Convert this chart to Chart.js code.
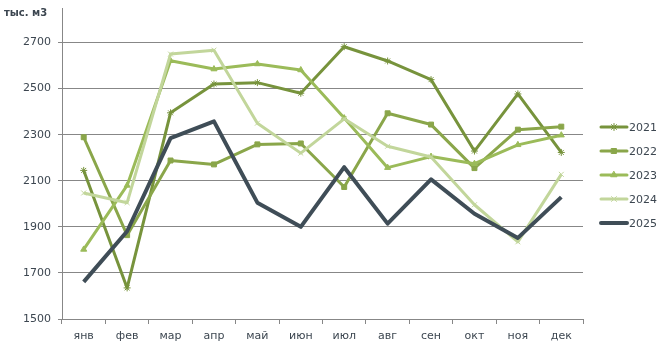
<!DOCTYPE html>
<html>
<head>
<meta charset="utf-8">
<script src="https://cdn.jsdelivr.net/npm/chart.js@4"></script>
<style>
  html, body { margin: 0; padding: 0; background: #fff; }
  #wrap { width: 670px; height: 351px; position: relative; }
</style>
</head>
<body>
<div id="wrap"><canvas id="chart" width="670" height="351"></canvas></div>
<script>
const months = ["янв", "фев", "мар", "апр", "май", "июн", "июл", "авг", "сен", "окт", "ноя", "дек"];
const years = ["2021", "2022", "2023", "2024", "2025"];
const v2021 = [2145, 1635, 2395, 2520, 2526, 2480, 2682, 2620, 2539, 2229, 2477, 2223];
const v2022 = [2289, 1864, 2188, 2171, 2258, 2262, 2073, 2393, 2344, 2155, 2322, 2335];
const v2023 = [1802, 2080, 2621, 2585, 2607, 2581, 2372, 2157, 2205, 2174, 2256, 2298];
const v2024 = [2047, 2005, 2650, 2667, 2350, 2220, 2369, 2250, 2203, 1996, 1835, 2128];
const v2025 = [1661, 1881, 2285, 2358, 2005, 1900, 2159, 1914, 2106, 1957, 1852, 2029];
const yTicks = [1500, 1700, 1900, 2100, 2300, 2500, 2700];

const colors = ["#77933c", "#8aa64a", "#9bbb59", "#c2d69b", "#3f4d57"];
const markers = ["star", "rect", "triangle", "crossRot", false];
const textColor = "#3c4650";
const axisColor = "#878787";
const font = "DejaVu Sans";

function series(label, data, i){
    return {
        label: label,
        data: data,
        borderColor: colors[i],
        backgroundColor: colors[i],
        borderWidth: i === 4 ? 4 : 3,
        borderJoinStyle: "round",
        pointStyle: markers[i] || "circle",
        pointRadius: markers[i] ? 3.5 : 0,
        pointBorderWidth: 1,
        pointBorderColor: colors[i],
        pointBackgroundColor: colors[i],
        tension: 0,
        order: 5 - i,
    };
}

// legend on the right, drawn by hand so the line samples look like the original
const sideLegend = {
    id: "sideLegend",
    afterDraw(chart){
        const ctx = chart.ctx;
        const sets = chart.data.datasets;
        ctx.save();
        ctx.font = "11px '" + font + "'";
        ctx.textBaseline = "middle";
        sets.forEach(function(ds, i){
            const y = 127 + i * 24;
            ctx.strokeStyle = ds.borderColor;
            ctx.lineWidth = ds.borderWidth;
            ctx.lineCap = "round";
            ctx.beginPath();
            ctx.moveTo(601, y);
            ctx.lineTo(627, y);
            ctx.stroke();
            if (ds.pointRadius > 0 && Chart.helpers && Chart.helpers.drawPoint) {
                ctx.lineWidth = 1;
                ctx.fillStyle = ds.pointBackgroundColor;
                Chart.helpers.drawPoint(ctx, {pointStyle: ds.pointStyle, radius: ds.pointRadius, borderWidth: 1, rotation: 0}, 614, y);
            }
            ctx.fillStyle = textColor;
            ctx.textAlign = "left";
            ctx.fillText(ds.label, 629, y + 1);
        });
        // unit caption
        ctx.font = "bold 10px '" + font + "'";
        ctx.fillStyle = textColor;
        ctx.fillText("тыс. м3", 4, 13);
        ctx.restore();
    }
};

new Chart(document.getElementById("chart").getContext("2d"), {
    type: "line",
    data: {
        labels: months,
        datasets: [
            series(years[0], v2021, 0),
            series(years[1], v2022, 1),
            series(years[2], v2023, 2),
            series(years[3], v2024, 3),
            series(years[4], v2025, 4),
        ],
    },
    options: {
        responsive: false,
        animation: false,
        layout: {
            padding: {top: 8, right: 87, left: 0, bottom: 0},
        },
        plugins: {
            legend: {display: false},
            tooltip: {enabled: false},
        },
        scales: {
            x: {
                offset: true,
                grid: {
                    offset: true,
                    drawOnChartArea: false,
                    tickLength: 5,
                    color: axisColor,
                },
                border: {color: axisColor, width: 1},
                ticks: {
                    color: textColor,
                    padding: 6,
                    font: {family: font, size: 11},
                    maxRotation: 0,
                },
                afterFit: function(scale){ scale.height = 32; },
            },
            y: {
                min: 1500,
                max: 2850,
                afterBuildTicks: function(scale){
                    scale.ticks = yTicks.map(function(v){ return {value: v}; });
                },
                grid: {
                    color: axisColor,
                    tickLength: 4,
                },
                border: {color: axisColor, width: 1},
                ticks: {
                    color: textColor,
                    padding: 7,
                    font: {family: font, size: 11, lineHeight: 0.6},
                    callback: function(value){ return String(value); },
                },
                afterFit: function(scale){
                    scale.width = 62;
                    scale.paddingTop = 0;
                    scale.paddingBottom = 0;
                },
            },
        },
    },
    plugins: [sideLegend],
});
</script>
</body>
</html>
